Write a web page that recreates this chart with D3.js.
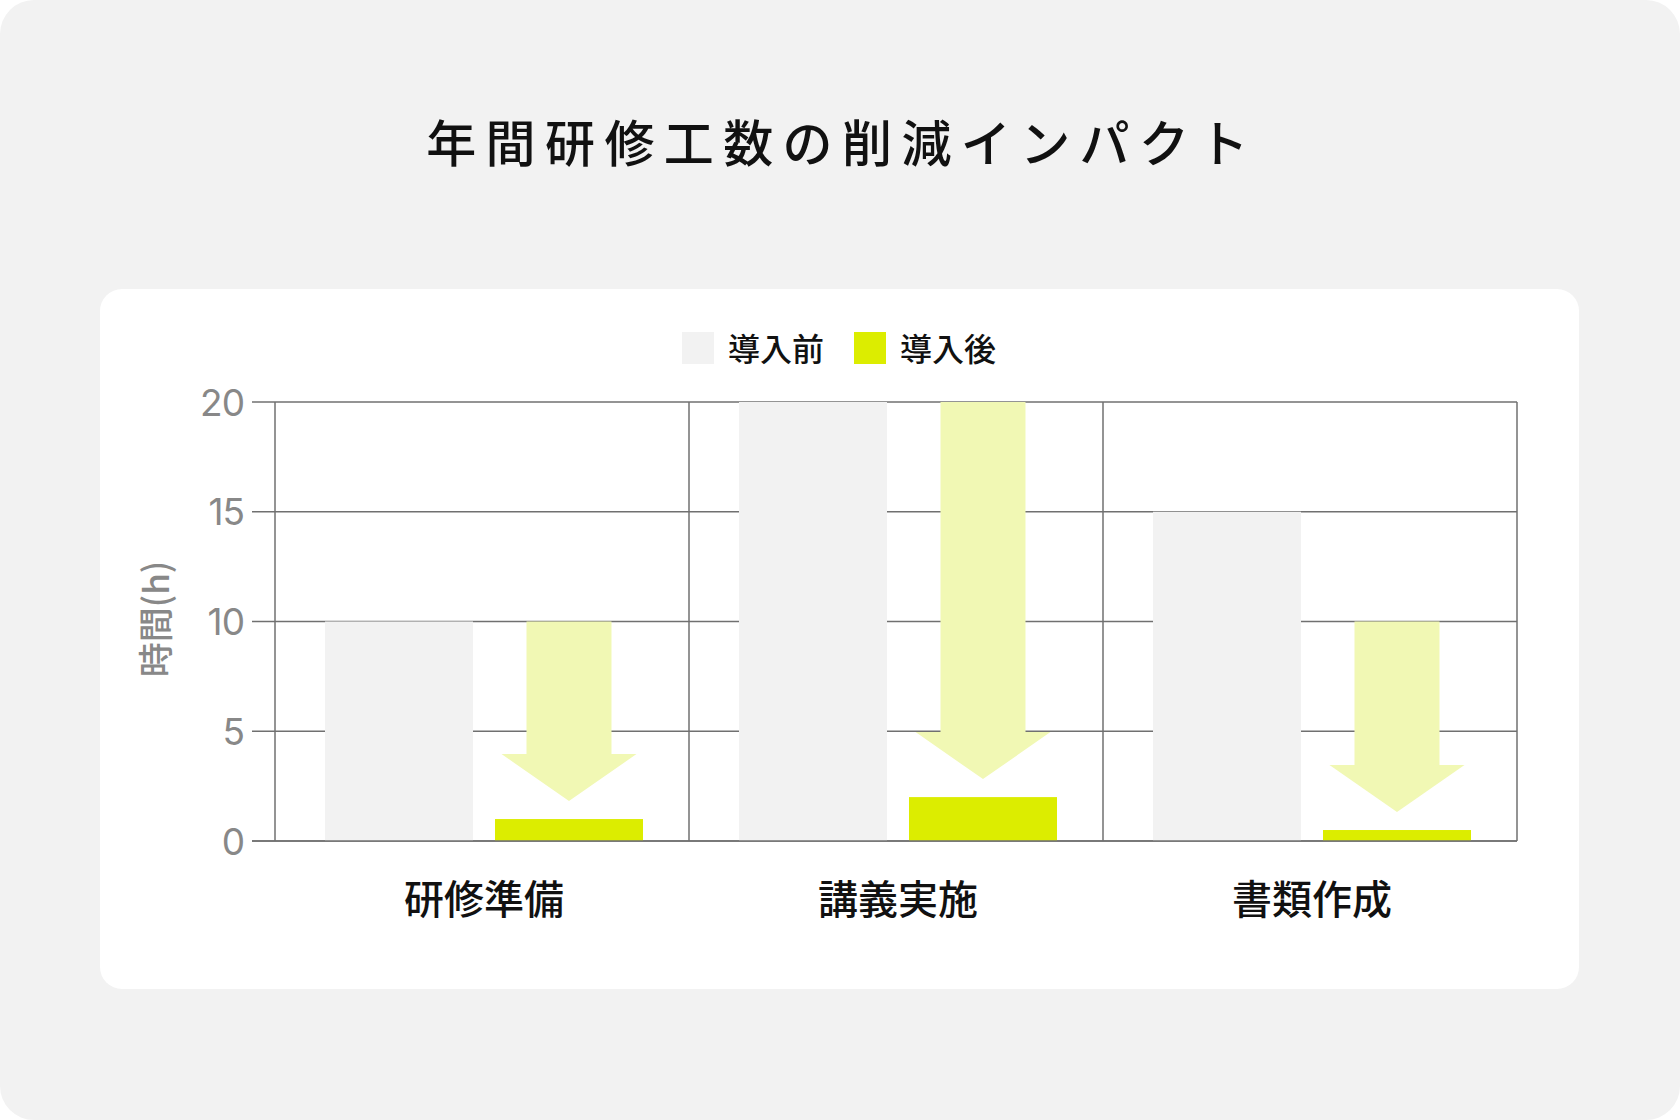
<!DOCTYPE html>
<html><head><meta charset="utf-8">
<script src="https://cdn.jsdelivr.net/npm/d3@7"></script>
<style>
html,body{margin:0;padding:0;background:#fff;}
svg{display:block;}
</style></head>
<body>
<svg id="chart" width="1680" height="1120"></svg>
<script>
const title = "年間研修工数の削減インパクト";
const categories = ["研修準備", "講義実施", "書類作成"];
const seriesNames = ["導入前", "導入後"];
const beforeValues = [10, 20, 15];
const afterValues = [1, 2, 0.5];
const arrowFrom = [10, 20, 10];
const yTicks = [0, 5, 10, 15, 20];
const yTitle = "時間(h)";

const colors = {before: "#f2f2f2", after: "#dced00", arrow: "#f1f8b4", grid: "#707070", tick: "#888888"};
const jp = "'Noto Sans CJK JP','Noto Sans',sans-serif";

const svg = d3.select("#chart");
svg.append("rect").attr("x",0).attr("y",0).attr("width",1680).attr("height",1120).attr("rx",34).attr("fill","#f2f2f2");
svg.append("text").attr("x",842).attr("y",140).attr("text-anchor","middle").attr("dominant-baseline","central")
  .attr("font-family",jp).attr("font-size",50).attr("font-weight",500).attr("letter-spacing",9.4).attr("fill","#111").text(title);
svg.append("rect").attr("x",100).attr("y",289).attr("width",1479).attr("height",700).attr("rx",22).attr("fill","#fff");

const m = {left:275, right:1517, top:402, bottom:841};
const x0 = d3.scaleBand().domain(categories).range([m.left, m.right]).padding(0);
const x1 = d3.scaleBand().domain(seriesNames).range([50, 368]).paddingInner(0.1294).paddingOuter(0);
const y = d3.scaleLinear().domain([0,20]).range([m.bottom, m.top]);

const g = svg.append("g");
g.selectAll(".hg").data(yTicks).join("line").attr("x1",m.left-23).attr("x2",m.right)
  .attr("y1",d=>y(d)).attr("y2",d=>y(d)).attr("stroke",colors.grid).attr("stroke-width",1.5);
const vLines = categories.map(c=>x0(c)).concat([m.right]);
g.selectAll(".vg").data(vLines).join("line").attr("x1",d=>d).attr("x2",d=>d)
  .attr("y1",m.top).attr("y2",m.bottom).attr("stroke",colors.grid).attr("stroke-width",1.5);

g.selectAll(".yt").data(yTicks).join("text").attr("x",244).attr("y",d=>y(d)).attr("text-anchor","end")
  .attr("dominant-baseline","central").attr("font-family","Inter,Roboto,sans-serif").attr("font-size",37)
  .attr("fill",colors.tick).attr("letter-spacing",-1).text(d=>d);
svg.append("text").attr("transform",`translate(153,619) rotate(-90)`).attr("text-anchor","middle")
  .attr("dominant-baseline","central").attr("font-family",jp).attr("font-size",35).attr("font-weight",500)
  .attr("fill",colors.tick).text(yTitle);

const cg = g.selectAll(".cat").data(categories).join("g").attr("transform",d=>`translate(${x0(d)},0)`);
cg.append("rect").attr("x",x1("導入前")).attr("width",x1.bandwidth())
  .attr("y",(d,i)=>y(beforeValues[i])).attr("height",(d,i)=>y(0)-y(beforeValues[i])).attr("fill",colors.before);
const shaftW = 85, headW = 135, headH = 47, gapPx = 18;
cg.append("path").attr("fill",colors.arrow).attr("d",(d,i)=>{
  const cx = x1("導入後") + x1.bandwidth()/2;
  const top = y(arrowFrom[i]);
  const tip = y(afterValues[i]) - gapPx;
  const hb = tip - headH;
  return `M${cx-shaftW/2},${top}L${cx+shaftW/2},${top}L${cx+shaftW/2},${hb}L${cx+headW/2},${hb}L${cx},${tip}L${cx-headW/2},${hb}L${cx-shaftW/2},${hb}Z`;
});
cg.append("rect").attr("x",x1("導入後")).attr("width",x1.bandwidth())
  .attr("y",(d,i)=>y(afterValues[i])).attr("height",(d,i)=>y(0)-y(afterValues[i])).attr("fill",colors.after);

g.append("line").attr("x1",m.left-23).attr("x2",m.right).attr("y1",y(0)).attr("y2",y(0)).attr("stroke",colors.grid).attr("stroke-width",1.5);

svg.selectAll(".cl").data(categories).join("text").attr("x",d=>x0(d)+x0.bandwidth()/2 + 2).attr("y",897)
  .attr("text-anchor","middle").attr("dominant-baseline","central").attr("font-family",jp)
  .attr("font-size",40).attr("font-weight",500).attr("fill","#111").text(d=>d);

const legX = [682, 854];
const lg = svg.selectAll(".lg").data(seriesNames).join("g").attr("transform",(d,i)=>`translate(${legX[i]},332)`);
lg.append("rect").attr("width",32).attr("height",32).attr("fill",(d,i)=>i===0?colors.before:colors.after);
lg.append("text").attr("x",46).attr("y",15).attr("dominant-baseline","central").attr("font-family",jp)
  .attr("font-size",32).attr("font-weight",500).attr("fill","#111").text(d=>d);
</script>
</body></html>
